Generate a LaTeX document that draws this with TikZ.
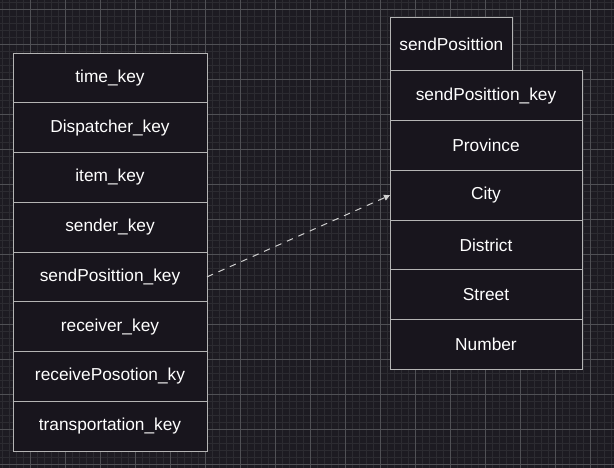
\documentclass[tikz,border=0pt]{standalone}
\usepackage{fontspec}
\setmainfont{Liberation Sans}
\usetikzlibrary{arrows.meta,positioning}

\definecolor{canvas}{HTML}{1D1B22}
\definecolor{minorgrid}{HTML}{2C2B31}
\definecolor{majorgrid}{HTML}{505055}
\definecolor{boxfill}{HTML}{18151D}
\definecolor{boxline}{HTML}{B4B4B4}
\definecolor{linkgray}{HTML}{D0D0D0}

\begin{document}
\begin{tikzpicture}[
        x=1pt, y=-1pt,
        every node/.style={font=\fontsize{17.3}{20}\selectfont, text=white},
        field/.style={draw=boxline, fill=boxfill, line width=1pt, outer sep=0pt, inner sep=0pt, minimum height=49.75pt},
        leftfield/.style={field, minimum width=194pt},
        rightfield/.style={field, minimum width=192pt, minimum height=49.7pt},
        tabbox/.style={field, minimum width=122.7pt, minimum height=53pt},
        minorline/.style={draw=minorgrid, line width=1pt},
        majorline/.style={draw=majorgrid, line width=1pt},
        link/.style={dash pattern=on 6.5pt off 6pt, draw=linkgray, line width=1pt, -{Triangle[length=6pt,width=6pt]}}
    ]

    % Canvas and grid
    \fill[canvas] (0,0) rectangle (614,468);
    \useasboundingbox (0,0) rectangle (614,468);
    \foreach \gx in {2.7,9.7,...,614} \draw[minorline] (\gx,0) -- (\gx,468);
    \foreach \gy in {2.3,9.3,...,468} \draw[minorline] (0,\gy) -- (614,\gy);
    \foreach \gx in {30.7,65.7,...,614} \draw[majorline] (\gx,0) -- (\gx,468);
    \foreach \gy in {9.3,44.3,...,468} \draw[majorline] (0,\gy) -- (614,\gy);

    % Fact table
    \node[leftfield] (time) at (110,77.9) {time\_key};
    \node[leftfield, below=0pt of time] (dispatcher) {Dispatcher\_key};
    \node[leftfield, below=0pt of dispatcher] (item) {item\_key};
    \node[leftfield, below=0pt of item] (sender) {sender\_key};
    \node[leftfield, below=0pt of sender] (sendpos) {sendPosittion\_key};
    \node[leftfield, below=0pt of sendpos] (receiver) {receiver\_key};
    \node[leftfield, below=0pt of receiver] (receivepos) {receivePosotion\_ky};
    \node[leftfield, below=0pt of receivepos] (transport) {transportation\_key};

    % Dimension table
    \node[rightfield] (pkey) at (486,95.85) {sendPosittion\_key};
    \node[tabbox, anchor=south west] (title) at (pkey.north west) {sendPosittion};
    \node[rightfield, below=0pt of pkey] (province) {Province};
    \node[rightfield, below=0pt of province] (city) {City};
    \node[rightfield, below=0pt of city] (district) {District};
    \node[rightfield, below=0pt of district] (street) {Street};
    \node[rightfield, below=0pt of street] (number) {Number};

    % Edges
    \draw[link] (sendpos.east) -- (city.west);

\end{tikzpicture}
\end{document}
